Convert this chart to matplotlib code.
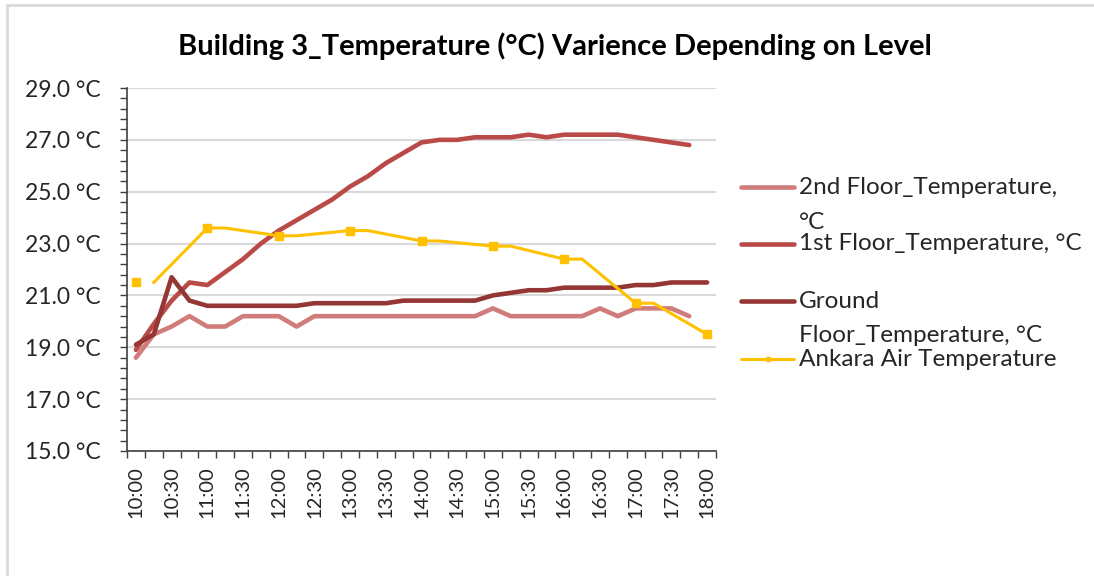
import numpy as np
import matplotlib
matplotlib.use("Agg")
import matplotlib.pyplot as plt
from matplotlib.lines import Line2D
from matplotlib.patches import Rectangle

plt.rcParams['font.family'] = ['Lato', 'DejaVu Sans']

nan = np.nan

# 15-minute readings, 10:00 .. 18:00
times = ['10:00', '10:15', '10:30', '10:45', '11:00', '11:15', '11:30', '11:45',
         '12:00', '12:15', '12:30', '12:45', '13:00', '13:15', '13:30', '13:45',
         '14:00', '14:15', '14:30', '14:45', '15:00', '15:15', '15:30', '15:45',
         '16:00', '16:15', '16:30', '16:45', '17:00', '17:15', '17:30', '17:45',
         '18:00']

floor2 = [18.6, 19.5, 19.8, 20.2, 19.8, 19.8, 20.2, 20.2, 20.2, 19.8, 20.2, 20.2,
          20.2, 20.2, 20.2, 20.2, 20.2, 20.2, 20.2, 20.2, 20.5, 20.2, 20.2, 20.2,
          20.2, 20.2, 20.5, 20.2, 20.5, 20.5, 20.5, 20.2, nan]

floor1 = [18.9, 19.9, 20.8, 21.5, 21.4, 21.9, 22.4, 23.0, 23.5, 23.9, 24.3, 24.7,
          25.2, 25.6, 26.1, 26.5, 26.9, 27.0, 27.0, 27.1, 27.1, 27.1, 27.2, 27.1,
          27.2, 27.2, 27.2, 27.2, 27.1, 27.0, 26.9, 26.8, nan]

ground = [19.1, 19.5, 21.7, 20.8, 20.6, 20.6, 20.6, 20.6, 20.6, 20.6, 20.7, 20.7,
          20.7, 20.7, 20.7, 20.8, 20.8, 20.8, 20.8, 20.8, 21.0, 21.1, 21.2, 21.2,
          21.3, 21.3, 21.3, 21.3, 21.4, 21.4, 21.5, 21.5, 21.5]

ankara = [21.5, 21.5, nan, nan, 23.6, 23.6, nan, nan, 23.3, 23.3, nan, nan,
          23.5, 23.5, nan, nan, 23.1, 23.1, nan, nan, 22.9, 22.9, nan, nan,
          22.4, 22.4, nan, nan, 20.7, 20.7, nan, nan, 19.5]

labels = ['2nd Floor_Temperature,\n°C', '1st Floor_Temperature, °C',
          'Ground\nFloor_Temperature, °C', 'Ankara Air Temperature']

c2 = '#D07C7A'
c1 = '#BA4A48'
cg = '#943634'
ca = '#FFC000'

W, H = 1094, 576
fig = plt.figure(figsize=(W / 100, H / 100), dpi=100)

def fx(px):
    return px / W

def fy(py):
    return 1 - py / H

ax = fig.add_axes([fx(127), fy(451), fx(716) - fx(127), fy(88) - fy(451)])

x = np.arange(len(times))
ax.plot(x, floor2, color=c2, lw=3.3, solid_capstyle='round', solid_joinstyle='round')
ax.plot(x, floor1, color=c1, lw=3.3, solid_capstyle='round', solid_joinstyle='round')
ax.plot(x, ground, color=cg, lw=3.3, solid_capstyle='round', solid_joinstyle='round')

ank = np.array(ankara)
ok = ~np.isnan(ank)
ok[0] = False
ax.plot(x[ok], ank[ok], color=ca, lw=2.2, solid_joinstyle='round')
hourly = x[::4]
ax.plot(hourly, ank[::4], ls='none', marker='s', ms=5.5, color=ca)

ax.set_xlim(-0.5, len(times) - 0.5)
ax.set_ylim(15, 29)

ax.set_yticks(np.arange(15, 30, 2))
ax.set_yticklabels([f'{v:.1f} °C' for v in np.arange(15, 30, 2)])
ax.set_yticks(np.arange(15, 29.01, 0.4), minor=True)
ax.yaxis.grid(True, color='#D9D9D9', lw=1.5)
ax.set_axisbelow(True)

ax.set_xticks(x[::2])
ax.set_xticklabels(times[::2], rotation=90)
ax.set_xticks(np.arange(-0.5, len(times)), minor=True)

ax.tick_params(axis='y', which='both', length=5, width=1, color='#404040',
               labelsize=16.5, pad=14, labelcolor='#262626')
ax.tick_params(axis='x', which='major', length=0, labelsize=14.5, pad=11,
               labelcolor='#262626')
ax.tick_params(axis='x', which='minor', length=5, width=1, color='#404040')

for s in ['top', 'right']:
    ax.spines[s].set_visible(False)
for s in ['left', 'bottom']:
    ax.spines[s].set_color('#404040')
    ax.spines[s].set_linewidth(1.2)

# title
fig.text(fx(555), fy(46), 'Building 3_Temperature (°C) Varience Depending on Level',
         ha='center', va='center', fontsize=21, fontweight='bold', color='#000000')

# legend, drawn by hand to keep the wrapped layout
leg_y = [187, 244, 301, 359]
colors = [c2, c1, cg, ca]
widths = [3.3, 3.3, 3.3, 2.2]
for i in range(4):
    yy = fy(leg_y[i])
    fig.add_artist(Line2D([fx(741), fx(794)], [yy, yy], color=colors[i],
                          lw=widths[i], solid_capstyle='round'))
    lines = labels[i].split('\n')
    for j, t in enumerate(lines):
        fig.text(fx(799), fy(leg_y[i] + 35 * j), t, ha='left', va='center',
                 fontsize=17.5, color='#262626')
fig.add_artist(Line2D([fx(767.5)], [fy(359)], marker='s', ms=3, color=ca, ls='none'))

# chart area border
fig.add_artist(Rectangle((fx(7), fy(H + 20)), fx(W + 20), fy(5) - fy(H + 20),
                         fill=False, edgecolor='#D9D9D9', lw=2,
                         transform=fig.transFigure))

fig.savefig('out.png', dpi=100)
